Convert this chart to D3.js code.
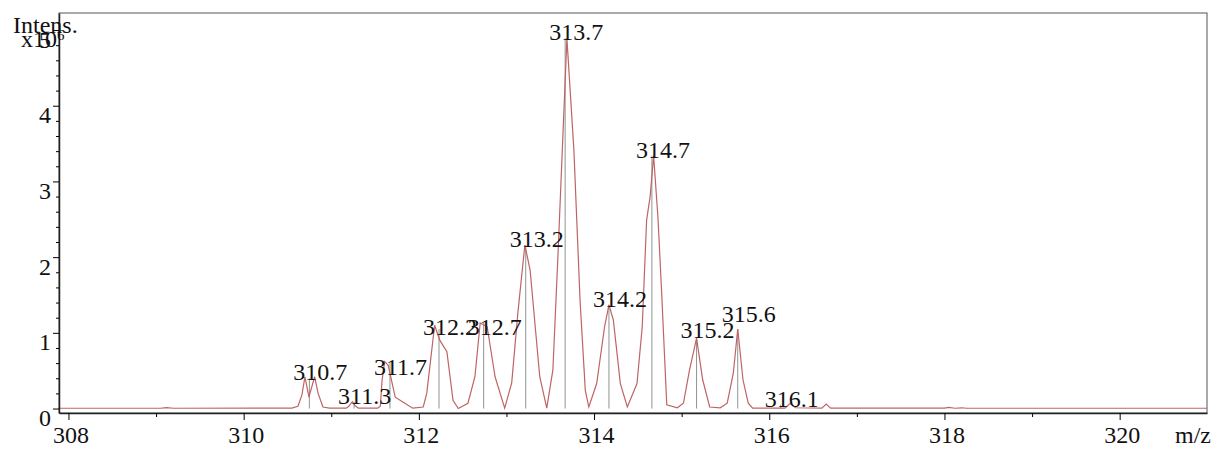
<!DOCTYPE html>
<html>
<head>
<meta charset="utf-8">
<script src="https://cdn.jsdelivr.net/npm/d3@7"></script>
<style>
  body { margin: 0; background: #fff; }
  text { font-family: "Liberation Serif", "Times New Roman", serif; fill: #111; }
</style>
</head>
<body>
<svg id="chart" width="1221" height="449"></svg>
<script>
// profile spectrum (m/z, intensity in 10^6)
const profileMz = [307.89, 309.05, 309.12, 309.2, 310.55, 310.62, 310.665, 310.70, 310.745, 310.81, 310.85, 310.905, 310.98,
  311.17, 311.2, 311.24, 311.27, 311.31, 311.53, 311.56, 311.58, 311.61, 311.65, 311.73, 311.84, 311.93,
  312.05, 312.09, 312.18, 312.24, 312.32, 312.39, 312.45, 312.56, 312.64, 312.70, 312.78, 312.87, 312.98,
  313.06, 313.13, 313.21, 313.27, 313.38, 313.46, 313.53, 313.59, 313.69, 313.77, 313.84, 313.90, 313.94,
  314.03, 314.12, 314.17, 314.22, 314.30, 314.38, 314.49, 314.55, 314.60, 314.64, 314.68, 314.73, 314.77, 314.83,
  314.95, 315.02, 315.09, 315.17, 315.24, 315.32, 315.44, 315.52, 315.59, 315.64, 315.70, 315.76, 315.81,
  316.18, 316.24, 316.30, 316.60, 316.65, 316.70, 318.00, 318.05, 318.12, 318.2, 318.25, 320.997]
const profileInt = [0.004, 0.004, 0.012, 0.004, 0.005, 0.03, 0.18, 0.42, 0.15, 0.42, 0.20, 0.02, 0.005,
  0.005, 0.03, 0.09, 0.04, 0.005, 0.005, 0.03, 0.37, 0.62, 0.57, 0.15, 0.07, 0.005,
  0.02, 0.2, 1.10, 0.90, 0.75, 0.11, 0.0, 0.07, 0.42, 1.13, 1.08, 0.42, 0.005,
  0.34, 1.26, 2.16, 1.83, 0.42, 0.005, 0.51, 2.08, 4.89, 3.41, 1.43, 0.24, 0.02,
  0.33, 1.08, 1.37, 1.17, 0.33, 0.02, 0.33, 1.08, 2.49, 2.80, 3.34, 2.51, 1.57, 0.05,
  0.01, 0.07, 0.51, 0.93, 0.38, 0.02, 0.01, 0.07, 0.47, 1.05, 0.38, 0.07, 0.005,
  0.005, 0.07, 0.01, 0.005, 0.06, 0.005, 0.005, 0.015, 0.004, 0.01, 0.004, 0.004]

// centroid peaks
const peakMz = [310.75, 311.26, 311.67, 312.23, 312.74, 313.22, 313.67, 314.17, 314.66, 315.17, 315.64, 316.13]
const peakInt = [0.40, 0.09, 0.60, 1.05, 1.13, 2.16, 4.89, 1.37, 3.34, 0.93, 1.05, 0.05]
const peakLabels = ["310.7", "311.3", "311.7", "312.2", "312.7", "313.2", "313.7", "314.2", "314.7", "315.2", "315.6", "316.1"]

const xMajorTicks = [308, 310, 312, 314, 316, 318, 320]
const xMinorTicks = [309, 311, 313, 315, 317, 319]
const yMajorTicks = [0, 1, 2, 3, 4, 5]
const yMinorTicks = d3.range(0, 26).map(i => i / 5).filter(v => !Number.isInteger(v))

const svg = d3.select("#chart")
const plotL = 59, plotR = 1207, plotT = 13, plotB = 413
const fs = 24

const x = d3.scaleLinear().domain([307.892, 320.997]).range([plotL, plotR])
const y = d3.scaleLinear().domain([-0.059, 5.225]).range([plotB, plotT])

// frame
svg.append("rect")
  .attr("x", plotL).attr("y", plotT)
  .attr("width", plotR - plotL).attr("height", plotB - plotT)
  .attr("fill", "none").attr("stroke", "#555").attr("stroke-width", 1)

// centroid sticks
svg.append("g").selectAll("line")
  .data(peakMz)
  .join("line")
  .attr("x1", d => x(d)).attr("x2", d => x(d))
  .attr("y1", y(0)).attr("y2", (d, i) => y(peakInt[i]))
  .attr("stroke", "#8e9590").attr("stroke-width", 1)

// profile
const pts = profileMz.map((m, i) => [m, profileInt[i]])
svg.append("path")
  .datum(pts)
  .attr("fill", "none")
  .attr("stroke", "#bf6464")
  .attr("stroke-width", 1.2)
  .attr("d", d3.line().x(d => x(d[0])).y(d => y(d[1])))

// x axis
const gx = svg.append("g").attr("transform", `translate(0,${plotB})`)
gx.call(d3.axisBottom(x).tickValues(xMajorTicks).tickSize(7).tickSizeOuter(0).tickPadding(6).tickFormat(d3.format("d")))
gx.selectAll("text").attr("font-size", fs).attr("font-family", null).attr("dx", 2)
gx.select(".domain").attr("stroke", "#222").attr("stroke-width", 1.5)
svg.append("g").attr("transform", `translate(0,${plotB})`)
  .call(d3.axisBottom(x).tickValues(xMinorTicks).tickSize(4).tickSizeOuter(0).tickFormat(""))
  .call(g => g.select(".domain").remove())

// y axis
const gy = svg.append("g").attr("transform", `translate(${plotL},0)`)
gy.call(d3.axisLeft(y).tickValues(yMajorTicks).tickSize(6).tickSizeOuter(0).tickPadding(2).tickFormat(d3.format("d")))
gy.selectAll("text").attr("font-size", fs).attr("font-family", null).attr("dy", "0.71em")
gy.select(".domain").attr("stroke", "#222").attr("stroke-width", 1.5)
svg.append("g").attr("transform", `translate(${plotL},0)`)
  .call(d3.axisLeft(y).tickValues(yMinorTicks).tickSize(3).tickSizeOuter(0).tickFormat(""))
  .call(g => g.select(".domain").remove())

// peak labels (a few nudged to dodge neighbours, as in the original)
const nudge = {"311.7": 10, "312.2": 4, "312.7": 10, "315.6": -9, "315.2": -2}
svg.append("g").selectAll("text")
  .data(peakLabels)
  .join("text")
  .attr("x", (d, i) => x(peakMz[i]) - 16)
  .attr("y", (d, i) => y(peakInt[i]) + 2 + (nudge[d] || 0))
  .attr("font-size", fs)
  .text(d => d)

// axis titles
svg.append("text").attr("x", 13).attr("y", 33).attr("font-size", fs).text("Intens.")
svg.append("text").attr("x", 21).attr("y", 47).attr("font-size", fs)
  .text("x10")
  .append("tspan").attr("font-size", 15).attr("dy", -7).text("6")
svg.append("text").attr("x", 1175).attr("y", 443).attr("font-size", fs).text("m/z")
</script>
</body>
</html>
